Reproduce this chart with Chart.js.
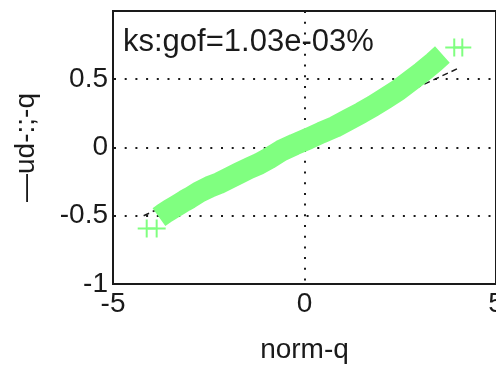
<!DOCTYPE html>
<html><head><meta charset="utf-8">
<script src="https://cdn.jsdelivr.net/npm/chart.js@4.4.0/dist/chart.umd.min.js"></script>
<style>html,body{margin:0;padding:0;overflow:hidden;background:#fff}canvas{display:block}</style>
</head><body>
<canvas id="c" width="507" height="365"></canvas>
<script>
// QQ band (normal quantiles vs sample quantiles)
const normQ = [-3.80, -3.65, -3.52, -3.39, -3.26, -3.13, -3.00, -2.75, -2.49, -2.23, -1.97, -1.71, -1.45, -1.19, -0.93, -0.60, -0.26, 0.10, 0.44, 0.80, 1.14, 1.48, 1.79, 2.12, 2.44, 2.75, 3.06, 3.37, 3.60];
const dataQ = [-0.51, -0.48, -0.457, -0.435, -0.413, -0.39, -0.37, -0.326, -0.29, -0.261, -0.225, -0.188, -0.152, -0.12, -0.08, -0.022, 0.022, 0.065, 0.109, 0.152, 0.203, 0.254, 0.304, 0.362, 0.42, 0.486, 0.551, 0.623, 0.681];
// isolated extreme points
const tailNormQ = [-4.12, -3.86, 3.91, 4.12];
const tailDataQ = [-0.594, -0.594, 0.732, 0.732];
// reference line
const refNormQ = [-4.2, 4.05];
const refDataQ = [-0.50, 0.585];
// ticks
const xTicks = [-5, 0, 5];
const yTicks = [-1, -0.5, 0, 0.5];
const xTitle = 'norm-q';
const yTitle = '—ud-:;-q';
const note = 'ks:gof=1.03e-03%';

const FONT = '"Liberation Sans", Arial, sans-serif';
const ink = '#1a1a1a';
const green = '#80ff80';

const zip = (xs, ys) => xs.map((x, i) => ({x, y: ys[i]}));

const framePlugin = {
  id: 'frame',
  afterDatasetsDraw(chart) {
    const {ctx, chartArea: a} = chart;
    ctx.save();
    ctx.strokeStyle = ink;
    ctx.lineWidth = 2;
    ctx.strokeRect(a.left, a.top, a.right - a.left, a.bottom - a.top);
    ctx.fillStyle = ink;
    ctx.font = '31px ' + FONT;
    ctx.textBaseline = 'alphabetic';
    ctx.textAlign = 'left';
    ctx.fillText(note, a.left + 10, a.top + 40);
    ctx.restore();
  }
};

new Chart(document.getElementById('c'), {
  type: 'scatter',
  data: {
    datasets: [
      {
        data: zip(tailNormQ, tailDataQ),
        showLine: false,
        pointStyle: 'cross',
        pointRadius: 9,
        pointBorderWidth: 2,
        borderColor: green,
        backgroundColor: green,
        order: 0
      },
      {
        data: zip(normQ, dataQ),
        showLine: true,
        borderColor: green,
        backgroundColor: green,
        borderWidth: 22,
        borderCapStyle: 'butt',
        borderJoinStyle: 'round',
        pointRadius: 0,
        tension: 0,
        order: 1
      },
      {
        data: zip(refNormQ, refDataQ),
        showLine: true,
        borderColor: ink,
        borderWidth: 1.5,
        borderDash: [6, 4],
        pointRadius: 0,
        order: 2
      }
    ]
  },
  options: {
    responsive: false,
    animation: false,
    events: [],
    layout: {padding: {left: 0, right: 8, top: 7, bottom: 0}},
    plugins: {legend: {display: false}, tooltip: {enabled: false}},
    scales: {
      x: {
        type: 'linear', min: -5, max: 5,
        afterBuildTicks: s => { s.ticks = xTicks.map(v => ({value: v})); },
        afterFit: s => { s.height = 81; s.paddingLeft = 0; s.paddingRight = 0; },
        ticks: {color: ink, font: {family: FONT, size: 28, lineHeight: 1}, padding: 6, maxRotation: 0, callback: v => String(v)},
        grid: {color: ink, lineWidth: 2, drawTicks: false},
        border: {display: true, color: ink, width: 2, dash: [2, 8.7]},
        title: {display: true, text: xTitle, color: ink, font: {family: FONT, size: 28, lineHeight: 1}, padding: {top: 0, bottom: 1}}
      },
      y: {
        type: 'linear', min: -1, max: 1,
        afterBuildTicks: s => { s.ticks = yTicks.map(v => ({value: v})); },
        afterFit: s => { s.width = 113; s.paddingTop = 0; s.paddingBottom = 0; },
        ticks: {color: ink, font: {family: FONT, size: 28, lineHeight: 1}, padding: 5, callback: v => String(v)},
        grid: {color: ink, lineWidth: 2, drawTicks: false},
        border: {display: true, color: ink, width: 2, dash: [2, 8.7]},
        title: {display: true, text: yTitle, color: ink, font: {family: FONT, size: 28, lineHeight: 1}, padding: {top: 12, bottom: 0}}
      }
    }
  },
  plugins: [framePlugin]
});
</script>
</body></html>
